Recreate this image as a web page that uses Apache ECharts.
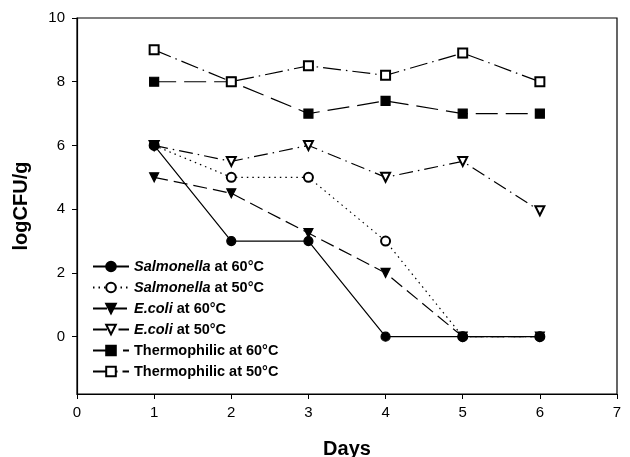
<!DOCTYPE html>
<html>
<head>
<meta charset="utf-8">
<script src="https://cdn.jsdelivr.net/npm/echarts@6/dist/echarts.min.js"></script>
<style>
  html, body { margin: 0; padding: 0; background: #fff; }
  #main { width: 630px; height: 457px; }
</style>
</head>
<body>
<div id="main"></div>
<script>
// days on the x axis
var days = [1, 2, 3, 4, 5, 6];
// logCFU/g for each group
var salmonella60 = [6, 3, 3, 0, 0, 0];
var salmonella50 = [6, 5, 5, 3, 0, 0];
var ecoli60 = [5, 4.5, 3.25, 2, 0, 0];
var ecoli50 = [6, 5.5, 6, 5, 5.5, 3.95];
var thermo60 = [8, 8, 7, 7.4, 7, 7];
var thermo50 = [9, 8, 8.5, 8.2, 8.9, 8];
var yTicks = [0, 2, 4, 6, 8, 10];

var FONT = '"Liberation Sans", Arial, sans-serif';

function pairs(vals) {
    var out = [];
    for (var i = 0; i < days.length; i++) {
        out.push([days[i], vals[i]]);
    }
    return out;
}

function makeSeries(name, vals, symbol, rotate, dash, z) {
    return {
        name: name,
        type: 'line',
        data: pairs(vals),
        z: z,
        symbol: symbol,
        symbolSize: 9,
        symbolRotate: rotate,
        color: '#000',
        itemStyle: { color: '#000', borderColor: '#000', borderWidth: 1.2 },
        lineStyle: { color: '#000', width: 1.2, type: dash },
        emphasis: { disabled: true },
        animation: false
    };
}

// 图例中的物种名用斜体
var legendNames = {
    'Salmonella at 60°C': '{i|Salmonella} at 60°C',
    'Salmonella at 50°C': '{i|Salmonella} at 50°C',
    'E.coli at 60°C': '{i|E.coli} at 60°C',
    'E.coli at 50°C': '{i|E.coli} at 50°C',
    'Thermophilic at 60°C': 'Thermophilic at 60°C',
    'Thermophilic at 50°C': 'Thermophilic at 50°C'
};

var myChart = echarts.init(document.getElementById('main'));
var option = {
    backgroundColor: '#fff',
    animation: false,
    grid: {
        left: 77, right: 13, top: 18, bottom: 63,
        outerBoundsMode: 'none',
        containLabel: false,
        show: true, borderColor: '#000', borderWidth: 1.2
    },
    legend: {
        orient: 'vertical',
        left: 87,
        top: 254,
        itemWidth: 36,
        itemHeight: 12,
        itemGap: 6,
        formatter: function (name) { return legendNames[name]; },
        textStyle: {
            fontFamily: FONT, fontSize: 14.5, fontWeight: 'bold', color: '#000',
            rich: {
                i: { fontFamily: FONT, fontSize: 14.5, fontWeight: 'bold', fontStyle: 'italic', color: '#000' }
            }
        }
    },
    xAxis: {
        type: 'value',
        min: 0, max: 7, interval: 1,
        name: 'Days',
        nameLocation: 'middle',
        nameGap: 45,
        nameTextStyle: { fontFamily: FONT, fontSize: 20, fontWeight: 'bold', color: '#000' },
        axisLine: { onZero: false, lineStyle: { color: '#000', width: 1.2 } },
        axisTick: { show: true, length: 5, lineStyle: { color: '#000' } },
        axisLabel: { fontFamily: FONT, fontSize: 15, color: '#000', margin: 11 },
        splitLine: { show: false }
    },
    yAxis: {
        type: 'value',
        min: -1.8, max: 10,
        name: 'logCFU/g',
        nameLocation: 'middle',
        nameGap: 46,
        nameTextStyle: { fontFamily: FONT, fontSize: 20, fontWeight: 'bold', color: '#000' },
        axisLine: { show: true, onZero: false, lineStyle: { color: '#000', width: 1.2 } },
        axisTick: { show: true, length: 5, customValues: yTicks, lineStyle: { color: '#000' } },
        axisLabel: { fontFamily: FONT, fontSize: 15, color: '#000', margin: 12, customValues: yTicks },
        splitLine: { show: false }
    },
    series: [
        makeSeries('Salmonella at 60°C', salmonella60, 'circle', 0, 'solid', 8),
        makeSeries('Salmonella at 50°C', salmonella50, 'emptyCircle', 0, [1.5, 4], 2),
        makeSeries('E.coli at 60°C', ecoli60, 'triangle', 180, [14, 6], 3),
        makeSeries('E.coli at 50°C', ecoli50, 'emptyTriangle', 180, [14, 5, 1.5, 5], 2),
        makeSeries('Thermophilic at 60°C', thermo60, 'rect', 0, [22, 8], 2),
        makeSeries('Thermophilic at 50°C', thermo50, 'emptyRect', 0, [18, 5, 1.5, 5], 2)
    ]
};
myChart.setOption(option);
</script>
</body>
</html>
